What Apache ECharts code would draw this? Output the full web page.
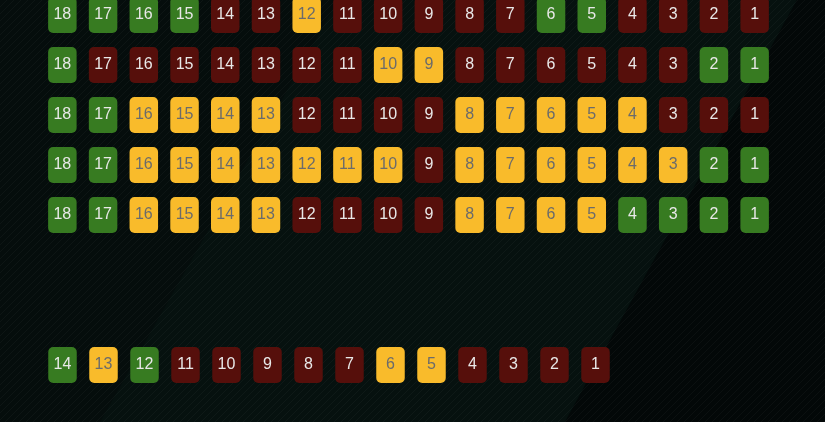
<!DOCTYPE html>
<html>
<head>
<meta charset="utf-8">
<script src="https://cdn.jsdelivr.net/npm/echarts@6/dist/echarts.min.js"></script>
<style>html,body{margin:0;padding:0;background:#050d0c;}#main{width:825px;height:422px;}</style>
</head>
<body>
<div id="main"></div>
<script>
// ---- data ----
var holes18 = ['18','17','16','15','14','13','12','11','10','9','8','7','6','5','4','3','2','1'];
var holes14 = ['14','13','12','11','10','9','8','7','6','5','4','3','2','1'];
var rowIndex = [0, 1, 2, 3, 4];
// G = green, R = red, Y = yellow
var row1 = ['G','G','G','G','R','R','Y','R','R','R','R','R','G','G','R','R','R','R'];
var row2 = ['G','R','R','R','R','R','R','R','Y','Y','R','R','R','R','R','R','G','G'];
var row3 = ['G','G','Y','Y','Y','Y','R','R','R','R','Y','Y','Y','Y','Y','R','R','R'];
var row4 = ['G','G','Y','Y','Y','Y','Y','Y','Y','R','Y','Y','Y','Y','Y','Y','G','G'];
var row5 = ['G','G','Y','Y','Y','Y','R','R','R','R','Y','Y','Y','Y','G','G','G','G'];
var row6 = ['G','Y','G','R','R','R','R','R','Y','Y','R','R','R','R'];

var fillColors = {G:'#377b21', R:'#560f0b', Y:'#f9bb2b'};
var textColors = {G:'#e8e8e8', R:'#e8e8e8', Y:'#6b6b6b'};

var rows18 = [row1,row2,row3,row4,row5];
var data18 = [];
rows18.forEach(function(r, ri){
  r.forEach(function(s, ci){ data18.push([holes18[ci], rowIndex[ri], s]); });
});
var data14 = row6.map(function(s, ci){ return [holes14[ci], 'r6', s]; });

function makeRender(labels){
  return function(params, api){
    var xi = api.value(0), y = api.value(1);
    var c = api.coord([xi, y]);
    var w = 28.5, h = 36;
    var st = api.value(2);
    return {
      type:'rect',
      shape:{x:c[0]-w/2, y:c[1]-h/2, width:w, height:h, r:5},
      style:{fill:fillColors[st]},
      textContent:{style:{text:labels[xi], fill:textColors[st], fontSize:16, fontFamily:'Liberation Sans, Arial, sans-serif'}},
      textConfig:{position:'inside'}
    };
  };
}

// hatch pattern
var pc = document.createElement('canvas');
pc.width = 7; pc.height = 7;
var pctx = pc.getContext('2d');
pctx.strokeStyle = 'rgba(255,255,255,0.035)';
pctx.lineWidth = 1;
pctx.beginPath();
pctx.moveTo(-1,8); pctx.lineTo(8,-1);
pctx.stroke();

var chart = echarts.init(document.getElementById('main'));
chart.setOption({
  backgroundColor:'#050d0c',
  animation:false,
  graphic:[
    {type:'polygon', z:0, silent:true, shape:{points:[[338,0],[797,0],[565,422],[100,422]]}, style:{fill:'#06110f'}},
    {type:'polygon', z:0, silent:true, shape:{points:[[797,0],[825,0],[825,422],[565,422]]}, style:{fill:'#030808'}},
    {type:'rect', z:1, silent:true, shape:{x:0,y:0,width:825,height:422}, style:{fill:{image:pc, repeat:'repeat'}}}
  ],
  grid:[
    {left:42, top:0, width:733, height:240},
    {left:42, top:340, width:574, height:50}
  ],
  xAxis:[
    {type:'category', gridIndex:0, data:holes18, show:false},
    {type:'category', gridIndex:1, data:holes14, show:false}
  ],
  yAxis:[
    {type:'value', gridIndex:0, min:-0.3, max:4.5, inverse:true, show:false},
    {type:'category', gridIndex:1, data:['r6'], show:false}
  ],
  series:[
    {type:'custom', xAxisIndex:0, yAxisIndex:0, renderItem:makeRender(holes18), data:data18, z:5},
    {type:'custom', xAxisIndex:1, yAxisIndex:1, renderItem:makeRender(holes14), data:data14, z:5}
  ]
});
</script>
</body>
</html>
